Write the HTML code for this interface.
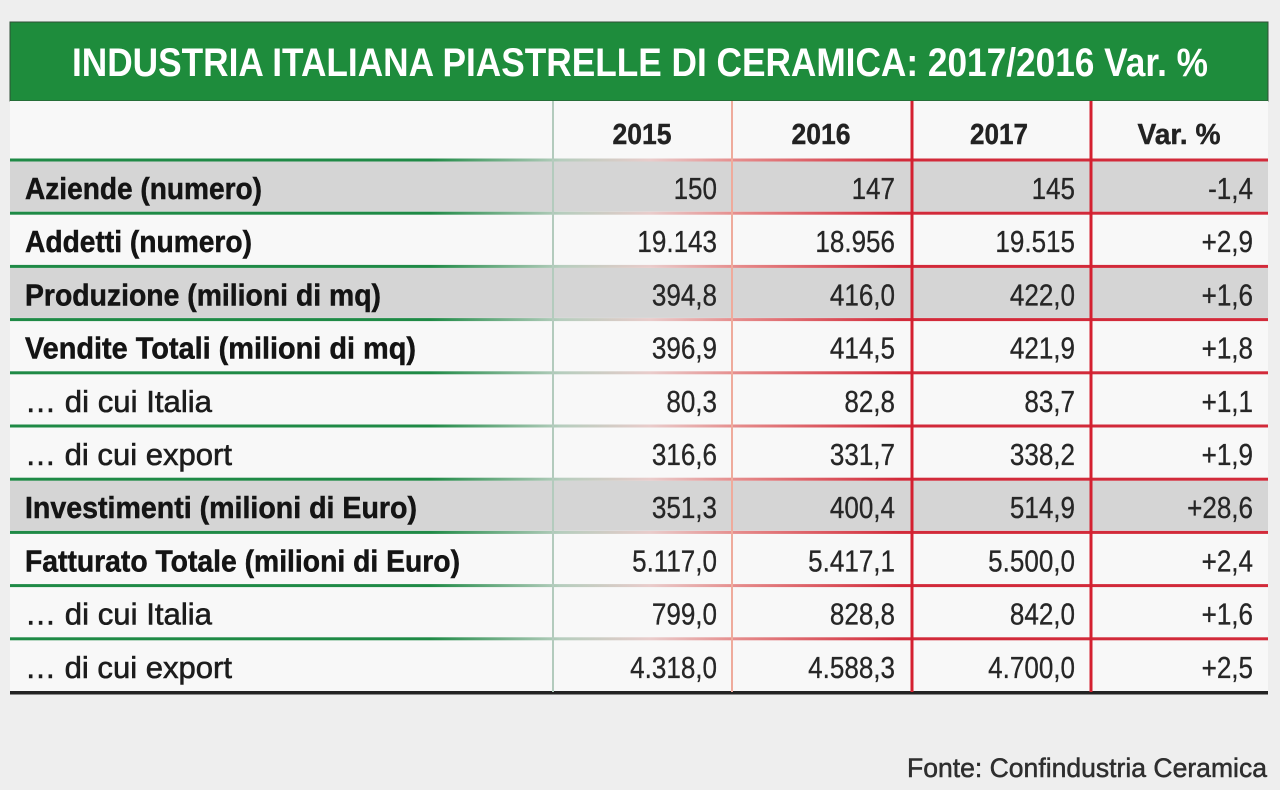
<!DOCTYPE html>
<html>
<head>
<meta charset="utf-8">
<style>
  html,body{margin:0;padding:0;background:#eeeeee;}
  svg{display:block;}
  .lb{font-family:"Liberation Sans",sans-serif;font-weight:bold;font-size:31px;fill:#141414;stroke:#141414;stroke-width:0.5;}
  .lr{font-family:"Liberation Sans",sans-serif;font-weight:normal;font-size:31px;fill:#1c1c1c;stroke:#1c1c1c;stroke-width:0.6;}
  .num{font-family:"Liberation Sans",sans-serif;font-size:31px;fill:#262626;stroke:#262626;stroke-width:0.3;}
  .hd{font-family:"Liberation Sans",sans-serif;font-weight:bold;font-size:29px;fill:#222;stroke:#222;stroke-width:0.4;}
</style>
</head>
<body>
<svg width="1280" height="790" viewBox="0 0 1280 790" xmlns="http://www.w3.org/2000/svg">
  <defs>
    <linearGradient id="lg" gradientUnits="userSpaceOnUse" x1="10" y1="0" x2="1268" y2="0">
      <stop offset="0" stop-color="#1f8a46"/>
      <stop offset="0.334" stop-color="#1f8a46"/>
      <stop offset="0.437" stop-color="#b5cdbd"/>
      <stop offset="0.509" stop-color="#e9cccb"/>
      <stop offset="0.58" stop-color="#e58a8a"/>
      <stop offset="0.707" stop-color="#d22a3a"/>
      <stop offset="1" stop-color="#d22a3a"/>
    </linearGradient>
  </defs>

  <rect x="0" y="0" width="1280" height="790" fill="#eeeeee"/>

  <rect x="10" y="22" width="1258" height="79" fill="#1e8c3c" stroke="#2f4f35" stroke-width="1"/>
  <text x="72" y="76" font-family="Liberation Sans, sans-serif" font-weight="bold" font-size="40" fill="#ffffff" textLength="1136" lengthAdjust="spacingAndGlyphs">INDUSTRIA ITALIANA PIASTRELLE DI CERAMICA: 2017/2016 Var. %</text>

  <rect x="10" y="101" width="1258" height="591" fill="#f8f8f8"/>

  <rect x="10" y="161.5" width="1258" height="50" fill="#d5d5d5"/>
  <rect x="10" y="267.9" width="1258" height="50" fill="#d5d5d5"/>
  <rect x="10" y="480.7" width="1258" height="50" fill="#d5d5d5"/>

  <g fill="url(#lg)">
    <rect x="10" y="158.5" width="1258" height="3"/>
    <rect x="10" y="211.7" width="1258" height="3"/>
    <rect x="10" y="264.9" width="1258" height="3"/>
    <rect x="10" y="318.1" width="1258" height="3"/>
    <rect x="10" y="371.3" width="1258" height="3"/>
    <rect x="10" y="424.5" width="1258" height="3"/>
    <rect x="10" y="477.7" width="1258" height="3"/>
    <rect x="10" y="530.9" width="1258" height="3"/>
    <rect x="10" y="584.1" width="1258" height="3"/>
    <rect x="10" y="637.3" width="1258" height="3"/>
  </g>
  <rect x="10" y="691" width="1258" height="3.5" fill="#222222"/>

  <rect x="552" y="101" width="2" height="591" fill="#b3cbbd"/>
  <rect x="731" y="101" width="2" height="591" fill="#efab9c"/>
  <rect x="910.5" y="101" width="3" height="591" fill="#d42030"/>
  <rect x="1089.5" y="101" width="3" height="591" fill="#d42030"/>

  <text class="hd" x="642" y="144" text-anchor="middle" textLength="59" lengthAdjust="spacingAndGlyphs">2015</text>
  <text class="hd" x="821" y="144" text-anchor="middle" textLength="59" lengthAdjust="spacingAndGlyphs">2016</text>
  <text class="hd" x="999" y="144" text-anchor="middle" textLength="58" lengthAdjust="spacingAndGlyphs">2017</text>
  <text class="hd" x="1179" y="144" text-anchor="middle" textLength="83" lengthAdjust="spacingAndGlyphs">Var. %</text>

  <text class="lb" x="25" y="199" textLength="237" lengthAdjust="spacingAndGlyphs">Aziende (numero)</text>
  <text class="lb" x="25" y="252.2" textLength="227" lengthAdjust="spacingAndGlyphs">Addetti (numero)</text>
  <text class="lb" x="25" y="305.4" textLength="356" lengthAdjust="spacingAndGlyphs">Produzione (milioni di mq)</text>
  <text class="lb" x="25" y="358.6" textLength="391" lengthAdjust="spacingAndGlyphs">Vendite Totali (milioni di mq)</text>
  <text class="lr" x="25" y="411.8" textLength="187" lengthAdjust="spacingAndGlyphs">… di cui Italia</text>
  <text class="lr" x="25" y="465" textLength="207" lengthAdjust="spacingAndGlyphs">… di cui export</text>
  <text class="lb" x="25" y="518.2" textLength="392" lengthAdjust="spacingAndGlyphs">Investimenti (milioni di Euro)</text>
  <text class="lb" x="25" y="571.4" textLength="435" lengthAdjust="spacingAndGlyphs">Fatturato Totale (milioni di Euro)</text>
  <text class="lr" x="25" y="624.6" textLength="187" lengthAdjust="spacingAndGlyphs">… di cui Italia</text>
  <text class="lr" x="25" y="677.8" textLength="207" lengthAdjust="spacingAndGlyphs">… di cui export</text>

  <g class="num" text-anchor="end">
    <text transform="translate(717,199) scale(0.84,1)">150</text>
    <text transform="translate(717,252.2) scale(0.84,1)">19.143</text>
    <text transform="translate(717,305.4) scale(0.84,1)">394,8</text>
    <text transform="translate(717,358.6) scale(0.84,1)">396,9</text>
    <text transform="translate(717,411.8) scale(0.84,1)">80,3</text>
    <text transform="translate(717,465) scale(0.84,1)">316,6</text>
    <text transform="translate(717,518.2) scale(0.84,1)">351,3</text>
    <text transform="translate(717,571.4) scale(0.84,1)">5.117,0</text>
    <text transform="translate(717,624.6) scale(0.84,1)">799,0</text>
    <text transform="translate(717,677.8) scale(0.84,1)">4.318,0</text>

    <text transform="translate(895,199) scale(0.84,1)">147</text>
    <text transform="translate(895,252.2) scale(0.84,1)">18.956</text>
    <text transform="translate(895,305.4) scale(0.84,1)">416,0</text>
    <text transform="translate(895,358.6) scale(0.84,1)">414,5</text>
    <text transform="translate(895,411.8) scale(0.84,1)">82,8</text>
    <text transform="translate(895,465) scale(0.84,1)">331,7</text>
    <text transform="translate(895,518.2) scale(0.84,1)">400,4</text>
    <text transform="translate(895,571.4) scale(0.84,1)">5.417,1</text>
    <text transform="translate(895,624.6) scale(0.84,1)">828,8</text>
    <text transform="translate(895,677.8) scale(0.84,1)">4.588,3</text>

    <text transform="translate(1075,199) scale(0.84,1)">145</text>
    <text transform="translate(1075,252.2) scale(0.84,1)">19.515</text>
    <text transform="translate(1075,305.4) scale(0.84,1)">422,0</text>
    <text transform="translate(1075,358.6) scale(0.84,1)">421,9</text>
    <text transform="translate(1075,411.8) scale(0.84,1)">83,7</text>
    <text transform="translate(1075,465) scale(0.84,1)">338,2</text>
    <text transform="translate(1075,518.2) scale(0.84,1)">514,9</text>
    <text transform="translate(1075,571.4) scale(0.84,1)">5.500,0</text>
    <text transform="translate(1075,624.6) scale(0.84,1)">842,0</text>
    <text transform="translate(1075,677.8) scale(0.84,1)">4.700,0</text>

    <text transform="translate(1253,199) scale(0.84,1)">-1,4</text>
    <text transform="translate(1253,252.2) scale(0.84,1)">+2,9</text>
    <text transform="translate(1253,305.4) scale(0.84,1)">+1,6</text>
    <text transform="translate(1253,358.6) scale(0.84,1)">+1,8</text>
    <text transform="translate(1253,411.8) scale(0.84,1)">+1,1</text>
    <text transform="translate(1253,465) scale(0.84,1)">+1,9</text>
    <text transform="translate(1253,518.2) scale(0.84,1)">+28,6</text>
    <text transform="translate(1253,571.4) scale(0.84,1)">+2,4</text>
    <text transform="translate(1253,624.6) scale(0.84,1)">+1,6</text>
    <text transform="translate(1253,677.8) scale(0.84,1)">+2,5</text>
  </g>

  <text x="907" y="777" font-family="Liberation Sans, sans-serif" font-size="27" fill="#2e2e2e" stroke="#2e2e2e" stroke-width="0.5" textLength="360" lengthAdjust="spacingAndGlyphs">Fonte: Confindustria Ceramica</text>
</svg>
</body>
</html>
